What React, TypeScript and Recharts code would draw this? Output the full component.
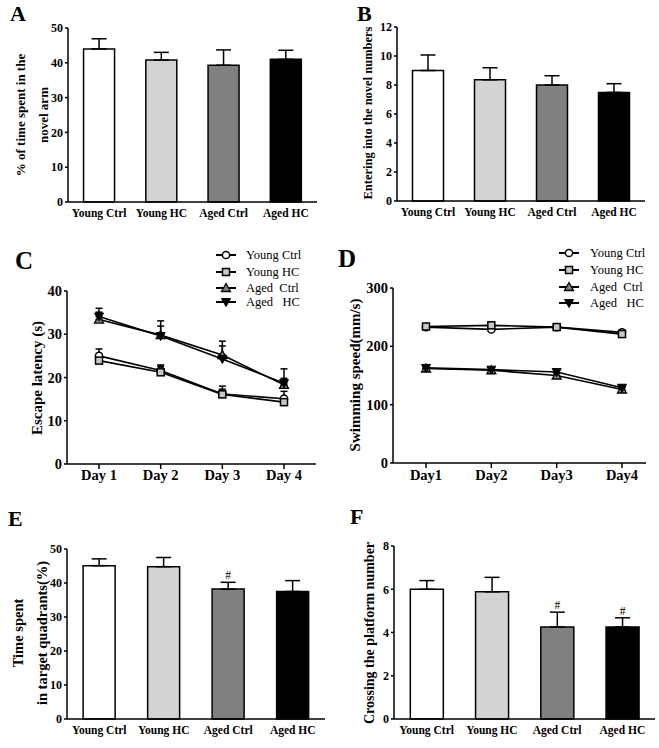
import React from 'react';
import { BarChart, Bar, Cell, XAxis, YAxis, ErrorBar, LabelList, LineChart, Line } from 'recharts';

const FONT = '"Liberation Serif", "Times New Roman", serif';

// bar panels (A, B, E, F)
const groups = ['Young Ctrl', 'Young HC', 'Aged Ctrl', 'Aged HC'];
const barFills = ['#ffffff', '#d3d3d3', '#808080', '#000000'];

const novelArmTime = [44.0, 40.8, 39.3, 41.0];
const novelArmTimeErr = [2.9, 2.2, 4.4, 2.6];

const novelEntries = [9.0, 8.36, 8.0, 7.49];
const novelEntriesErr = [1.07, 0.83, 0.64, 0.6];

const targetTime = [45.1, 44.8, 38.2, 37.5];
const targetTimeErr = [2.0, 2.7, 2.0, 3.2];
const targetTimeMarks = ['', '', '#', ''];

const platformCross = [6.0, 5.88, 4.26, 4.26];
const platformCrossErr = [0.4, 0.67, 0.68, 0.42];
const platformCrossMarks = ['', '', '#', '#'];

// line panels (C, D)
const seriesNames = ['Young Ctrl', 'Young HC', 'Aged  Ctrl', 'Aged   HC'];
const markerKinds = ['circle', 'square', 'up', 'down'];

const latencyDays = ['Day 1', 'Day 2', 'Day 3', 'Day 4'];
const latencyYoungCtrl = [25.0, 21.6, 16.2, 15.1];
const latencyYoungHC = [23.9, 21.2, 16.1, 14.3];
const latencyAgedCtrl = [33.4, 29.8, 25.2, 18.3];
const latencyAgedHC = [34.1, 29.6, 24.3, 18.7];
const latencyYoungCtrlErr = [1.6, 1.3, 1.8, 1.7];
const latencyYoungHCErr = [0.8, 1.4, 1.2, 0.8];
const latencyAgedCtrlErr = [1.7, 3.3, 3.2, 1.5];
const latencyAgedHCErr = [1.9, 2.3, 3.0, 3.3];

const speedDays = ['Day1', 'Day2', 'Day3', 'Day4'];
const speedYoungCtrl = [233, 229, 233, 224];
const speedYoungHC = [234, 236, 233, 221];
const speedAgedCtrl = [162, 159, 150, 126];
const speedAgedHC = [163, 160, 156, 129];
const speedYoungCtrlErr = [3, 3, 3, 4];
const speedYoungHCErr = [3, 3, 3, 3];
const speedAgedCtrlErr = [4, 4, 4, 4];
const speedAgedHCErr = [3, 3, 5, 4];

const barRows = (vals: number[], errs: number[], marks?: string[]) =>
  groups.map((g, i) => ({ group: g, value: vals[i], err: [0, errs[i]], mark: marks ? marks[i] : '' }));

const lineRows = (days: string[], series: number[][], errs: number[][]) =>
  days.map((d, i) => {
    const row: any = { day: d };
    series.forEach((s, k) => {
      row[`s${k}`] = s[i];
      row[`e${k}`] = [0, errs[k][i]];
    });
    return row;
  });

const Marker = ({ kind, cx, cy }: { kind: string; cx: number; cy: number }) => {
  if (kind === 'circle')
    return <circle cx={cx} cy={cy} r={3.6} fill="#fff" stroke="#000" strokeWidth={1.5} />;
  if (kind === 'square')
    return <rect x={cx - 3.5} y={cy - 3.5} width={7} height={7} fill="#c8c8c8" stroke="#000" strokeWidth={1.5} />;
  if (kind === 'up')
    return <path d={`M${cx},${cy - 4.5}L${cx + 4.5},${cy + 3.5}L${cx - 4.5},${cy + 3.5}Z`} fill="#808080" stroke="#000" strokeWidth={1.3} />;
  return <path d={`M${cx},${cy + 4.5}L${cx + 4.5},${cy - 3.5}L${cx - 4.5},${cy - 3.5}Z`} fill="#000" stroke="#000" strokeWidth={1} />;
};

const axisLine = { stroke: '#000', strokeWidth: 1.5 };

interface Plot { top: number; right: number; left: number; bottom: number }

const PanelLetter = ({ x, y, size, text }: { x: number; y: number; size: number; text: string }) => (
  <div style={{ position: 'absolute', left: x, top: y, fontSize: size, fontWeight: 'bold', lineHeight: 1 }}>{text}</div>
);

const YTitle = ({ cx, cy, size, lines, gap }: { cx: number; cy: number; size: number; lines: string[]; gap?: number }) => (
  <div
    style={{
      position: 'absolute',
      left: cx,
      top: cy,
      transform: 'translate(-50%, -50%) rotate(-90deg)',
      whiteSpace: 'pre',
      textAlign: 'center',
      fontSize: size,
      fontWeight: 'bold',
      lineHeight: gap ? `${gap}px` : 1.2,
    }}
  >
    {lines.join('\n')}
  </div>
);

const markLabel = (vals: number[], errs: number[]) => (props: any) => {
  const { value, index } = props;
  if (!value) return null;
  const vb = props.viewBox || props;
  const { x, y, width, height } = vb;
  const top = y - (errs[index] / vals[index]) * height;
  return (
    <text x={x + width / 2} y={top - 3} textAnchor="middle" fontSize={11.5} fontFamily={FONT} fill="#000">
      {value}
    </text>
  );
};

const BarPanel = ({ x, y, w, h, plot, vals, errs, marks, domain, ticks }: {
  x: number; y: number; w: number; h: number; plot: Plot; vals: number[]; errs: number[]; marks?: string[];
  domain: [number, number]; ticks: number[];
}) => {
  const data = barRows(vals, errs, marks);
  return (
    <div style={{ position: 'absolute', left: x, top: y }}>
      <BarChart width={w} height={h} data={data} margin={{ top: plot.top, right: plot.right, left: 0, bottom: 0 }} barCategoryGap="25%">
        <XAxis
          dataKey="group"
          height={plot.bottom}
          interval={0}
          tickLine={false}
          tickSize={0}
          tickMargin={7}
          axisLine={axisLine}
          tick={{ fill: '#000', fontSize: 11.5, fontWeight: 'bold', fontFamily: FONT }}
        />
        <YAxis
          width={plot.left}
          domain={domain}
          ticks={ticks}
          interval={0}
          tickSize={3}
          tickMargin={2}
          axisLine={axisLine}
          tickLine={{ stroke: '#000', strokeWidth: 1.5 }}
          tick={{ fill: '#000', fontSize: 12, fontWeight: 'bold', fontFamily: FONT }}
        />
        <Bar dataKey="value" stroke="#000" strokeWidth={1.5} isAnimationActive={false}>
          {data.map((d, i) => (
            <Cell key={d.group} fill={barFills[i]} />
          ))}
          <ErrorBar dataKey="err" width={7.5} stroke="#000" strokeWidth={1.5} direction="y" />
          {marks ? <LabelList dataKey="mark" content={markLabel(vals, errs)} /> : null}
        </Bar>
      </BarChart>
    </div>
  );
};

const LinePanel = ({ x, y, w, h, plot, days, series, errs, domain, ticks, padding, tickMargin }: {
  x: number; y: number; w: number; h: number; plot: Plot; days: string[]; series: number[][]; errs: number[][];
  domain: [number, number]; ticks: number[]; padding: { left: number; right: number }; tickMargin: number;
}) => {
  const data = lineRows(days, series, errs);
  return (
    <div style={{ position: 'absolute', left: x, top: y }}>
      <LineChart width={w} height={h} data={data} margin={{ top: plot.top, right: plot.right, left: 0, bottom: 0 }}>
        <XAxis
          dataKey="day"
          height={plot.bottom}
          interval={0}
          padding={padding}
          tickSize={5}
          tickMargin={tickMargin}
          axisLine={axisLine}
          tickLine={{ stroke: '#000', strokeWidth: 1.5 }}
          tick={{ fill: '#000', fontSize: 14.5, fontWeight: 'bold', fontFamily: FONT }}
        />
        <YAxis
          width={plot.left}
          domain={domain}
          ticks={ticks}
          interval={0}
          tickSize={3}
          tickMargin={2}
          axisLine={axisLine}
          tickLine={{ stroke: '#000', strokeWidth: 1.5 }}
          tick={{ fill: '#000', fontSize: 14.5, fontWeight: 'bold', fontFamily: FONT }}
        />
        {markerKinds.map((kind, k) => (
          <Line
            key={kind}
            dataKey={`s${k}`}
            stroke="#000"
            strokeWidth={1.6}
            isAnimationActive={false}
            activeDot={false}
            dot={(p: any) => <Marker key={`${kind}-${p.index}`} kind={kind} cx={p.cx} cy={p.cy} />}
          >
            <ErrorBar dataKey={`e${k}`} width={3.5} stroke="#000" strokeWidth={1.5} direction="y" />
          </Line>
        ))}
      </LineChart>
    </div>
  );
};

const LegendKey = ({ x, textX, ys }: { x: number; textX: number; ys: number[] }) => (
  <>
    {seriesNames.map((name, i) => (
      <div key={name} style={{ position: 'absolute', left: x, top: ys[i] - 8, height: 16, display: 'flex', alignItems: 'center' }}>
        <svg width={22} height={16} style={{ display: 'block' }}>
          <line x1={1} y1={8} x2={21} y2={8} stroke="#000" strokeWidth={2} />
          <Marker kind={markerKinds[i]} cx={11} cy={8} />
        </svg>
        <span style={{ marginLeft: textX - x - 22, fontSize: 12.5, whiteSpace: 'pre', lineHeight: '16px' }}>{name}</span>
      </div>
    ))}
  </>
);

export default function App() {
  return (
    <div style={{ position: 'absolute', left: 0, top: 0, width: 659, height: 748, background: '#fff', fontFamily: FONT, color: '#000', overflow: 'hidden' }}>
      {/* A */}
      <BarPanel x={0} y={0} w={330} h={230} plot={{ top: 28, right: 13, left: 68, bottom: 28 }}
        vals={novelArmTime} errs={novelArmTimeErr} domain={[0, 50]} ticks={[0, 10, 20, 30, 40, 50]} />
      <PanelLetter x={10} y={3} size={22} text="A" />
      <YTitle cx={32} cy={115} size={13} gap={23} lines={['% of time spent in the', 'novel arm']} />

      {/* B */}
      <BarPanel x={330} y={0} w={329} h={230} plot={{ top: 27, right: 14, left: 67, bottom: 29 }}
        vals={novelEntries} errs={novelEntriesErr} domain={[0, 12]} ticks={[0, 2, 4, 6, 8, 10, 12]} />
      <PanelLetter x={357} y={3} size={22} text="B" />
      <YTitle cx={368} cy={113} size={12.5} lines={['Entering into the novel numbers']} />

      {/* C */}
      <LinePanel x={0} y={235} w={330} h={250} plot={{ top: 56, right: 14, left: 67, bottom: 21 }}
        days={latencyDays}
        series={[latencyYoungCtrl, latencyYoungHC, latencyAgedCtrl, latencyAgedHC]}
        errs={[latencyYoungCtrlErr, latencyYoungHCErr, latencyAgedCtrlErr, latencyAgedHCErr]}
        domain={[0, 40]} ticks={[0, 10, 20, 30, 40]} padding={{ left: 32, right: 32 }} tickMargin={1} />
      <PanelLetter x={15} y={248} size={25} text="C" />
      <YTitle cx={37} cy={378} size={15} lines={['Escape latency (s)']} />
      <LegendKey x={215} textX={246} ys={[255, 272, 288, 302]} />

      {/* D */}
      <LinePanel x={330} y={235} w={329} h={250} plot={{ top: 53, right: 13, left: 63, bottom: 22 }}
        days={speedDays}
        series={[speedYoungCtrl, speedYoungHC, speedAgedCtrl, speedAgedHC]}
        errs={[speedYoungCtrlErr, speedYoungHCErr, speedAgedCtrlErr, speedAgedHCErr]}
        domain={[0, 300]} ticks={[0, 100, 200, 300]} padding={{ left: 33, right: 24 }} tickMargin={2} />
      <PanelLetter x={338} y={246} size={25} text="D" />
      <YTitle cx={355} cy={375} size={15} lines={['Swimming speed(mm/s)']} />
      <LegendKey x={558} textX={590} ys={[253, 270, 287, 303]} />

      {/* E */}
      <BarPanel x={0} y={480} w={330} h={268} plot={{ top: 69, right: 5, left: 67, bottom: 29 }}
        vals={targetTime} errs={targetTimeErr} marks={targetTimeMarks} domain={[0, 50]} ticks={[0, 10, 20, 30, 40, 50]} />
      <PanelLetter x={8} y={508} size={22} text="E" />
      <YTitle cx={30} cy={633} size={14.5} gap={24} lines={['Time spent', 'in target quadrants(%)']} />

      {/* F */}
      <BarPanel x={330} y={480} w={329} h={268} plot={{ top: 66, right: 4, left: 64, bottom: 29 }}
        vals={platformCross} errs={platformCrossErr} marks={platformCrossMarks} domain={[0, 8]} ticks={[0, 2, 4, 6, 8]} />
      <PanelLetter x={350} y={506} size={22} text="F" />
      <YTitle cx={370} cy={633} size={14} lines={['Crossing the platform number']} />
    </div>
  );
}
